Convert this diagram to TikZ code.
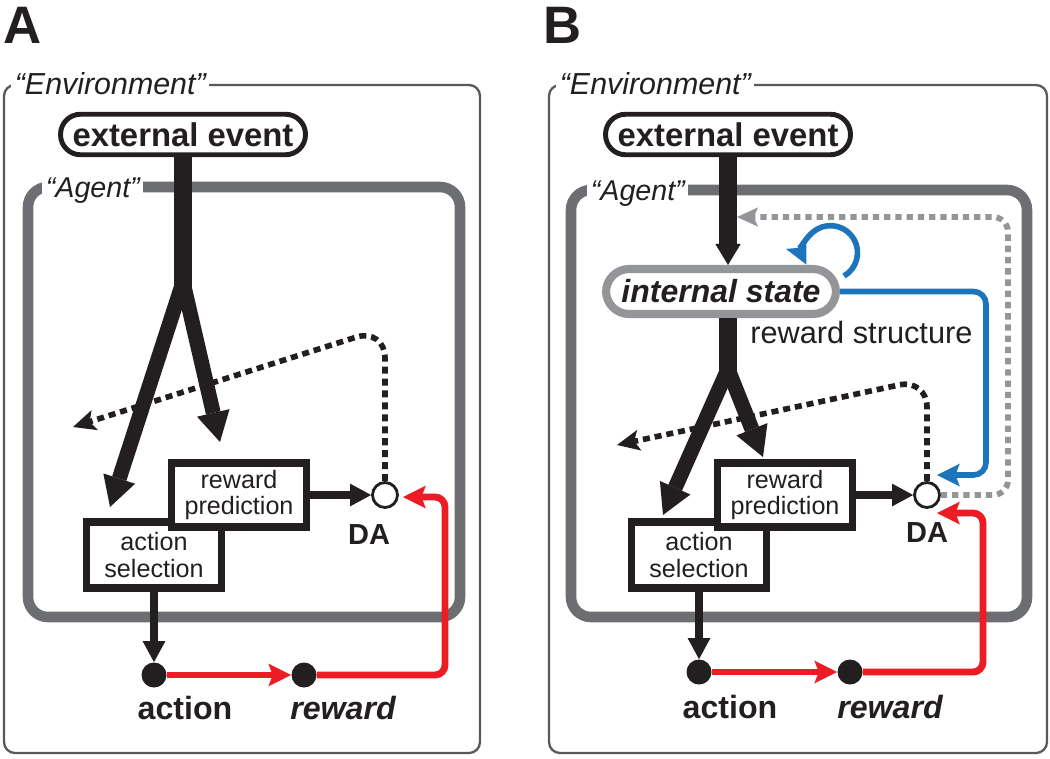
\documentclass[tikz,border=0pt]{standalone}
\usepackage{fontspec}
\setmainfont{Liberation Sans}
\usetikzlibrary{arrows.meta}
\definecolor{ink}{HTML}{231F20}
\definecolor{envgray}{HTML}{58595B}
\definecolor{agentgray}{HTML}{6D6E71}
\definecolor{stategray}{HTML}{939598}
\definecolor{rred}{HTML}{ED1C24}
\definecolor{bblue}{HTML}{1C75BC}
\newcommand\fPanel{\fontsize{30}{32}\selectfont\bfseries}
\newcommand\fEnv{\fontsize{17.3}{19}\selectfont\itshape}
\newcommand\fAgent{\fontsize{16.3}{18}\selectfont\itshape}
\newcommand\fEvent{\fontsize{18.7}{20}\selectfont\bfseries}
\newcommand\fBoxRP{\fontsize{14.3}{15}\selectfont}
\newcommand\fBoxAS{\fontsize{14.3}{15}\selectfont}
\newcommand\fLab{\fontsize{18.3}{20}\selectfont\bfseries}
\newcommand\fDA{\fontsize{16.5}{18}\selectfont\bfseries}
\newcommand\fState{\fontsize{18.2}{20}\selectfont\bfseries\itshape}
\newcommand\fStruct{\fontsize{17.5}{19}\selectfont}
\tikzset{
  envbox/.style={draw=envgray, line width=1.3pt, rounded corners=0.22cm},
  agentbox/.style={draw=agentgray, line width=6pt, rounded corners=0.4cm},
  envlabel/.style={fill=white, anchor=base west, inner xsep=2pt, inner ysep=2pt, font=\fEnv, text=ink},
  agentlabel/.style={fill=white, anchor=base west, inner xsep=2pt, inner ysep=3pt, font=\fAgent, text=ink},
  panel/.style={anchor=base west, inner sep=0pt, font=\fPanel, text=ink},
  evtbox/.style={draw=ink, line width=2.8pt, rounded corners=0.4cm, minimum width=4.9cm, minimum height=0.81cm, inner sep=0pt, font=\fEvent, text=ink, fill=white},
  statebox/.style={draw=stategray, line width=4.6pt, rounded corners=0.46cm, minimum width=4.6cm, minimum height=0.9cm, inner sep=0pt, font=\fState, text=ink, fill=white},
  procbox/.style={draw=ink, line width=4.3pt, fill=white, minimum width=2.7cm, inner sep=0pt, align=center, text=ink},
  rpbox/.style={procbox, minimum height=1.28cm, font=\fBoxRP},
  asbox/.style={procbox, minimum height=1.32cm, font=\fBoxAS},
  dacircle/.style={circle, draw=ink, line width=1.6pt, fill=white, minimum size=0.5cm, inner sep=0pt},
  blackdot/.style={circle, fill=ink, minimum size=0.5cm, inner sep=0pt},
  lab/.style={anchor=base, inner sep=0pt, font=\fLab, text=ink},
  dalab/.style={anchor=base, inner sep=0pt, font=\fDA, text=ink},
  structlab/.style={anchor=base west, inner sep=0pt, font=\fStruct, text=ink},
  trunk/.style={draw=ink, line width=10pt},
  branch/.style={draw=ink, line width=8.5pt, -{Triangle[length=17pt,width=19pt,line width=0pt]}},
  trunkarrow/.style={draw=ink, line width=10pt, -{Triangle[length=12pt,width=14.5pt,line width=0pt]}},
  solidarrow/.style={draw=ink, line width=4.3pt, -{Triangle[length=12pt,width=13pt,line width=0pt]}},
  dasharrow/.style={draw=ink, line width=3.2pt, dash pattern=on 4pt off 2.8pt, -{Stealth[length=13pt,width=12pt,inset=3pt,line width=0pt]}},
  redline/.style={draw=rred, line width=3.9pt, rounded corners=0.2cm, -{Stealth[length=13pt,width=13pt,inset=2.5pt,line width=0pt]}},
  blueline/.style={draw=bblue, line width=3.2pt, rounded corners=0.25cm, -{Stealth[length=13pt,width=13pt,inset=2.5pt,line width=0pt]}},
  graydash/.style={draw=stategray, line width=3.3pt, dash pattern=on 3.6pt off 2.8pt, rounded corners=0.3cm, -{Stealth[length=12pt,width=11pt,inset=2.5pt,line width=0pt]}},
}
\begin{document}
\begin{tikzpicture}[x=0.02cm, y=-0.02cm]
\useasboundingbox (0,0) rectangle (1050,758);
\fill[white] (0,0) rectangle (1050,758);

% ---------------- Panel A ----------------
\node[panel] (panA) at (3,43) {A};
\draw[envbox] (4,85) rectangle (480,753);
\node[envlabel] (envA) at (11,94) {“Environment”};
\draw[agentbox] (28,187) rectangle (460,617);
\node[agentlabel] (agA) at (42,197) {“Agent”};

\node[evtbox] (extA) at (183,134.5) {external event};
\coordinate (splitA) at (183,290);
\coordinate (splitAtop) at (183,282);
\coordinate (tipAL) at (110,507);
\coordinate (tipAR) at (220,442);
\draw[trunk] (extA.south) -- (splitA);
\draw[branch] (splitAtop) -- (tipAL);
\draw[branch] (splitAtop) -- (tipAR);

\node[dacircle] (daA) at (385,495) {};
\node[dalab] (daLabA) at (369,544) {DA};
\coordinate (dcornerA) at (385,328);
\coordinate (dtipA) at (73,427);
\draw[dasharrow, rounded corners=0.6cm] (daA.north) -- (dcornerA) -- (dtipA);

\node[asbox] (asA) at (154,555) {action\\selection};
\node[rpbox] (rpA) at (239,495) {reward\\prediction};
\draw[solidarrow] (rpA.east) -- (daA.west);

\node[blackdot] (actA) at (154,675) {};
\node[blackdot] (rewA) at (304,675) {};
\node[lab] (actLabA) at (185,719) {action};
\node[lab] (rewLabA) at (343,719) {\itshape reward};
\draw[solidarrow] (asA.south) -- (actA.north);
\draw[redline] (actA.east) -- (rewA.west);
\coordinate (rcornerA) at (445,497);
\coordinate (rtipA) at (403,497);
\draw[redline] (rewA.east) -| (rcornerA) -- (rtipA);

% ---------------- Panel B ----------------
\node[panel] (panB) at (543,43) {B};
\draw[envbox] (549,85) rectangle (1047,753);
\node[envlabel] (envB) at (556,94) {“Environment”};
\draw[agentbox] (571,190) rectangle (1027,617);
\node[agentlabel] (agB) at (587,200) {“Agent”};

\node[evtbox] (extB) at (728,134.5) {external event};
\node[statebox] (isB) at (721,291.5) {internal state};
\draw[trunkarrow] (extB.south) -- (extB.south |- isB.north);
\coordinate (splitB) at (728,377);
\coordinate (splitBtop) at (728,369);
\coordinate (tipBL) at (663,515);
\coordinate (tipBR) at (763,457);
\draw[trunk] (extB.south |- isB.south) -- (splitB);
\draw[branch] (splitBtop) -- (tipBL);
\draw[branch] (splitBtop) -- (tipBR);

\node[structlab] (structB) at (750,343) {reward structure};

\node[dacircle] (daB) at (927,495) {};
\node[dalab] (daLabB) at (927,542) {DA};
\coordinate (dcornerB) at (927,379);
\coordinate (dtipB) at (617,445);
\draw[dasharrow, rounded corners=0.56cm] (daB.north) -- (dcornerB) -- (dtipB);

% blue reward-structure connections
\coordinate (bcornerB) at (986,475);
\coordinate (btipB) at (937,475);
\draw[blueline] (isB.east) -| (bcornerB) -- (btipB);
\coordinate (loopS) at (844,276);
\draw[blueline] (loopS) arc[start angle=60, end angle=-206, radius=27];

% gray dashed feedback to internal state
\coordinate (gcornerB) at (1008,217);
\coordinate (gtipB) at (737,217);
\draw[graydash] (daB.east) -| (gcornerB) -- (gtipB);

\node[asbox] (asB) at (699,555) {action\\selection};
\node[rpbox] (rpB) at (785,495) {reward\\prediction};
\draw[solidarrow] (rpB.east) -- (daB.west);

\node[blackdot] (actB) at (699,672) {};
\node[blackdot] (rewB) at (850,672) {};
\node[lab] (actLabB) at (730,718) {action};
\node[lab] (rewLabB) at (890,718) {\itshape reward};
\draw[solidarrow] (asB.south) -- (actB.north);
\draw[redline] (actB.east) -- (rewB.west);
\coordinate (rcornerB) at (983,513);
\coordinate (rtipB) at (937,513);
\draw[redline] (rewB.east) -| (rcornerB) -- (rtipB);
\end{tikzpicture}
\end{document}
